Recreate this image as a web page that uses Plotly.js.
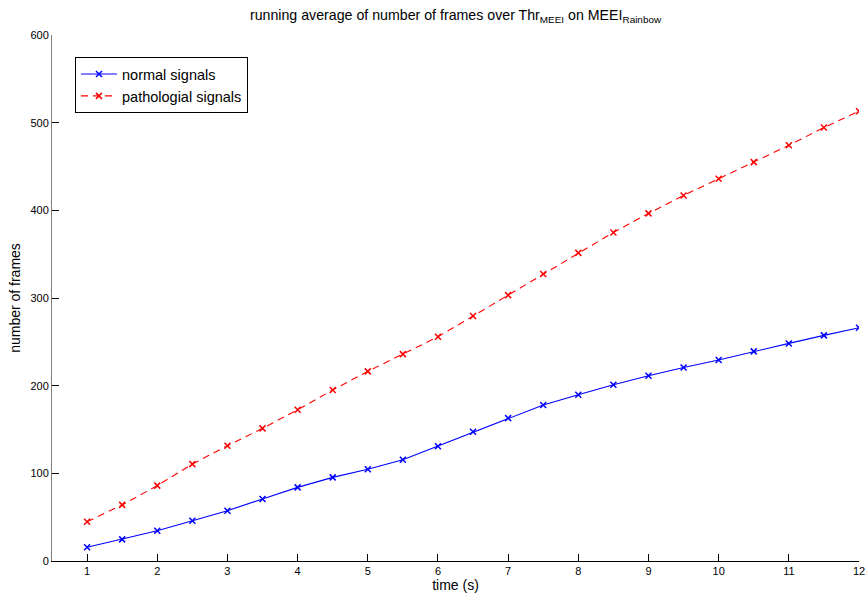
<!DOCTYPE html>
<html>
<head>
<meta charset="utf-8">
<script src="https://cdn.plot.ly/plotly-3.0.1.min.js"></script>
<style>
  html, body { margin: 0; padding: 0; background: #fff; }
  #chart { width: 867px; height: 599px; }
</style>
</head>
<body>
<div id="chart"></div>
<script>
// Time instants (s) at which the running average is sampled
const timeSec = [1, 1.5, 2, 2.5, 3, 3.5, 4, 4.5, 5, 5.5, 6, 6.5, 7, 7.5, 8, 8.5, 9, 9.5, 10, 10.5, 11, 11.5, 12];

// Running average of the number of frames above threshold
const normalFrames = [15.6, 24.7, 34.6, 46, 57.4, 70.7, 84, 95.4, 104.6, 115.4, 131, 147.4, 163, 178, 189.6, 201, 211.3, 220.8, 229.2, 239.1, 248.2, 257.4, 266];
const pathologicalFrames = [44.8, 64, 86, 110.5, 131.5, 151.3, 172.5, 195, 216.3, 236, 255.8, 279.4, 303.3, 327.3, 351.5, 374.8, 396.5, 417, 436, 455, 474.2, 494.5, 513.1];

const seriesNames = ['normal signals', 'pathologial signals'];
const xTicks = [1, 2, 3, 4, 5, 6, 7, 8, 9, 10, 11, 12];
const yTicks = [0, 100, 200, 300, 400, 500, 600];

const FONT = '"Liberation Sans", Arial, Helvetica, sans-serif';

const traces = [
  {
    x: timeSec, y: normalFrames, name: seriesNames[0],
    type: 'scatter', mode: 'lines+markers',
    line: { color: '#0000ff', width: 1.1 },
    marker: { symbol: 'x-thin-open', size: 6, color: '#0000ff', line: { color: '#0000ff', width: 1.5 } }
  },
  {
    x: timeSec, y: pathologicalFrames, name: seriesNames[1],
    type: 'scatter', mode: 'lines+markers',
    line: { color: '#ff0000', width: 1.1, dash: '7px,5px' },
    marker: { symbol: 'x-thin-open', size: 6, color: '#ff0000', line: { color: '#ff0000', width: 1.5 } }
  }
];

const layout = {
  width: 867, height: 599,
  margin: { l: 52, r: 8, t: 35, b: 38, pad: 0 },
  paper_bgcolor: '#ffffff', plot_bgcolor: '#ffffff',
  font: { family: FONT, size: 11, color: '#000' },
  title: {
    text: 'running average of number of frames over Thr<sub>MEEI</sub> on MEEI<sub>Rainbow</sub>',
    font: { family: FONT, size: 14.2, color: '#000' },
    x: 0.5, xanchor: 'center', xref: 'paper',
    y: 0.975, yanchor: 'middle', yref: 'container'
  },
  xaxis: {
    range: [0.5, 12], tickvals: xTicks, ticktext: xTicks.map(String),
    ticks: 'inside', ticklen: 7, tickwidth: 1, tickcolor: '#000',
    showline: true, linecolor: '#000', linewidth: 1, mirror: false,
    showgrid: false, zeroline: false,
    tickfont: { family: FONT, size: 11, color: '#000' },
    title: { text: 'time (s)', font: { family: FONT, size: 14, color: '#000' }, standoff: 3 }
  },
  yaxis: {
    range: [0, 600], tickvals: yTicks, ticktext: yTicks.map(String),
    ticks: 'inside', ticklen: 7, tickwidth: 1, tickcolor: '#000',
    showline: true, linecolor: '#808080', linewidth: 1, mirror: false,
    showgrid: false, zeroline: false,
    tickfont: { family: FONT, size: 11, color: '#000' },
    title: { text: 'number of frames', font: { family: FONT, size: 14, color: '#000' }, standoff: 6 }
  },
  legend: {
    x: 0.0285, y: 0.958, xanchor: 'left', yanchor: 'top',
    bgcolor: '#ffffff', bordercolor: '#000', borderwidth: 1,
    font: { family: FONT, size: 14.5, color: '#000' },
    itemwidth: 36, tracegroupgap: 0
  },
  showlegend: true
};

Plotly.newPlot('chart', traces, layout, { displayModeBar: false, staticPlot: true });
</script>
</body>
</html>
